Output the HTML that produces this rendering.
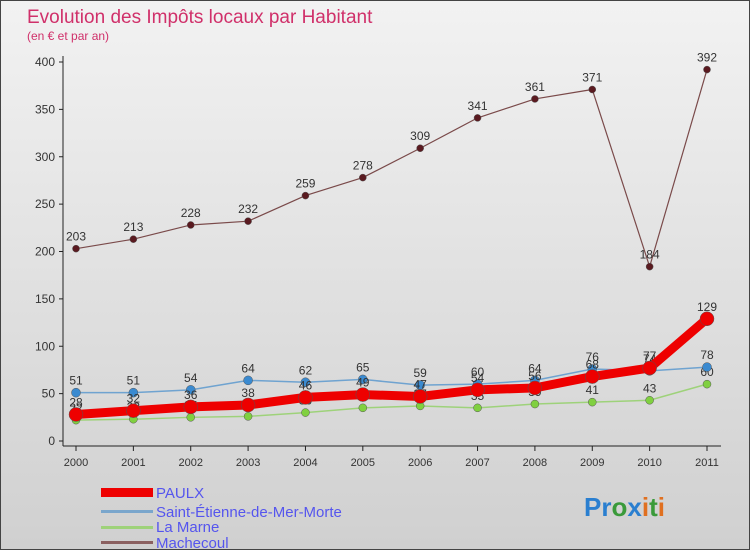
<!DOCTYPE html>
<html><head><meta charset="utf-8"><style>
body{margin:0}
#wrap{width:748px;height:548px;border:1px solid #444;background:linear-gradient(#f2f2f2,#d0d0d0);position:relative;overflow:hidden;font-family:"Liberation Sans",sans-serif}
</style></head><body>
<div id="wrap">
<svg id="c" width="750" height="550">
<text x="26" y="22" font-size="19" fill="#d0306a">Evolution des Impôts locaux par Habitant</text>
<text x="26" y="39" font-size="12" fill="#d0306a">(en € et par an)</text>
<g id="axes"></g><g id="series"></g>
<g font-size="15" fill="#5555ee">
<rect x="100" y="487" width="52" height="9" fill="#e00"/>
<text x="155" y="497">PAULX</text>
<rect x="100" y="509" width="52" height="3" fill="#7aa6cc"/>
<text x="155" y="516">Saint-Étienne-de-Mer-Morte</text>
<rect x="100" y="525" width="52" height="3" fill="#9ed27a"/>
<text x="155" y="531">La Marne</text>
<rect x="100" y="540" width="52" height="3" fill="#8a6060"/>
<text x="155" y="547">Machecoul</text>
</g>
<text x="583" y="515" font-size="26" font-weight="bold"><tspan fill="#2a7fd0">Pr</tspan><tspan fill="#3a9a3a">o</tspan><tspan fill="#2a7fd0">x</tspan><tspan fill="#e07020">i</tspan><tspan fill="#3a9a3a">t</tspan><tspan fill="#e07020">i</tspan></text>
</svg></div>
<script>
const years=["2000","2001","2002","2003","2004","2005","2006","2007","2008","2009","2010","2011"];
const paulx=[28,32,36,38,46,49,47,54,56,68,77,129];
const stEtienne=[51,51,54,64,62,65,59,60,64,76,74,78];
const laMarne=[22,23,25,26,30,35,37,35,39,41,43,60];
const machecoul=[203,213,228,232,259,278,309,341,361,371,184,392];
const yTicks=[0,50,100,150,200,250,300,350,400];
const NS="http://www.w3.org/2000/svg";
const X=i=>75+i*(706-75)/11, Y=v=>440-v*(440-61)/400;
function mk(t,a,p){const e=document.createElementNS(NS,t);for(const k in a)e.setAttribute(k,a[k]);p.appendChild(e);return e;}
const ax=document.getElementById('axes'), sr=document.getElementById('series');
let l=mk('line',{x1:62,y1:55,x2:62,y2:445,stroke:'#222'},ax);


l=mk('line',{x1:62,y1:445,x2:720,y2:445,stroke:'#222'},ax);


yTicks.forEach(v=>{const y=Y(v);mk('line',{x1:58,y1:y,x2:62,y2:y,stroke:'#222'},ax);
const t=mk('text',{x:54,y:y+4,'text-anchor':'end','font-size':12,fill:'#333'},ax);t.textContent=v;

});
years.forEach((yr,i)=>{const x=X(i);mk('line',{x1:x,y1:445,x2:x,y2:450,stroke:'#222'},ax);
const t=mk('text',{x:x,y:465,'text-anchor':'middle','font-size':11,fill:'#333'},ax);t.textContent=yr;

});
function series(d,name,col,w,r,dot){
 const p=mk('polyline',{points:d.map((v,i)=>X(i)+','+Y(v)).join(' '),fill:'none',stroke:col,'stroke-width':w},sr);
 
 
 d.forEach((v,i)=>{const c=mk('circle',{cx:X(i),cy:Y(v),r:r,fill:dot,stroke:'#555','stroke-width':0.5},sr);
 
 
 const t=mk('text',{x:X(i),y:Y(v)-8,'text-anchor':'middle','font-size':12,fill:'#333'},sr);t.textContent=v;
 
 });
}
series(machecoul,'machecoul','#7a4a4a',1.2,3.5,'#5a1a20');
series(laMarne,'la-marne','#9ed27a',1.5,4,'#80d040');
series(stEtienne,'saint-etienne','#6fa3d0',1.5,4.5,'#3a8ad0');
series(paulx,'paulx','#ee0000',9,7,'#ee0000');
</script>
</body></html>
